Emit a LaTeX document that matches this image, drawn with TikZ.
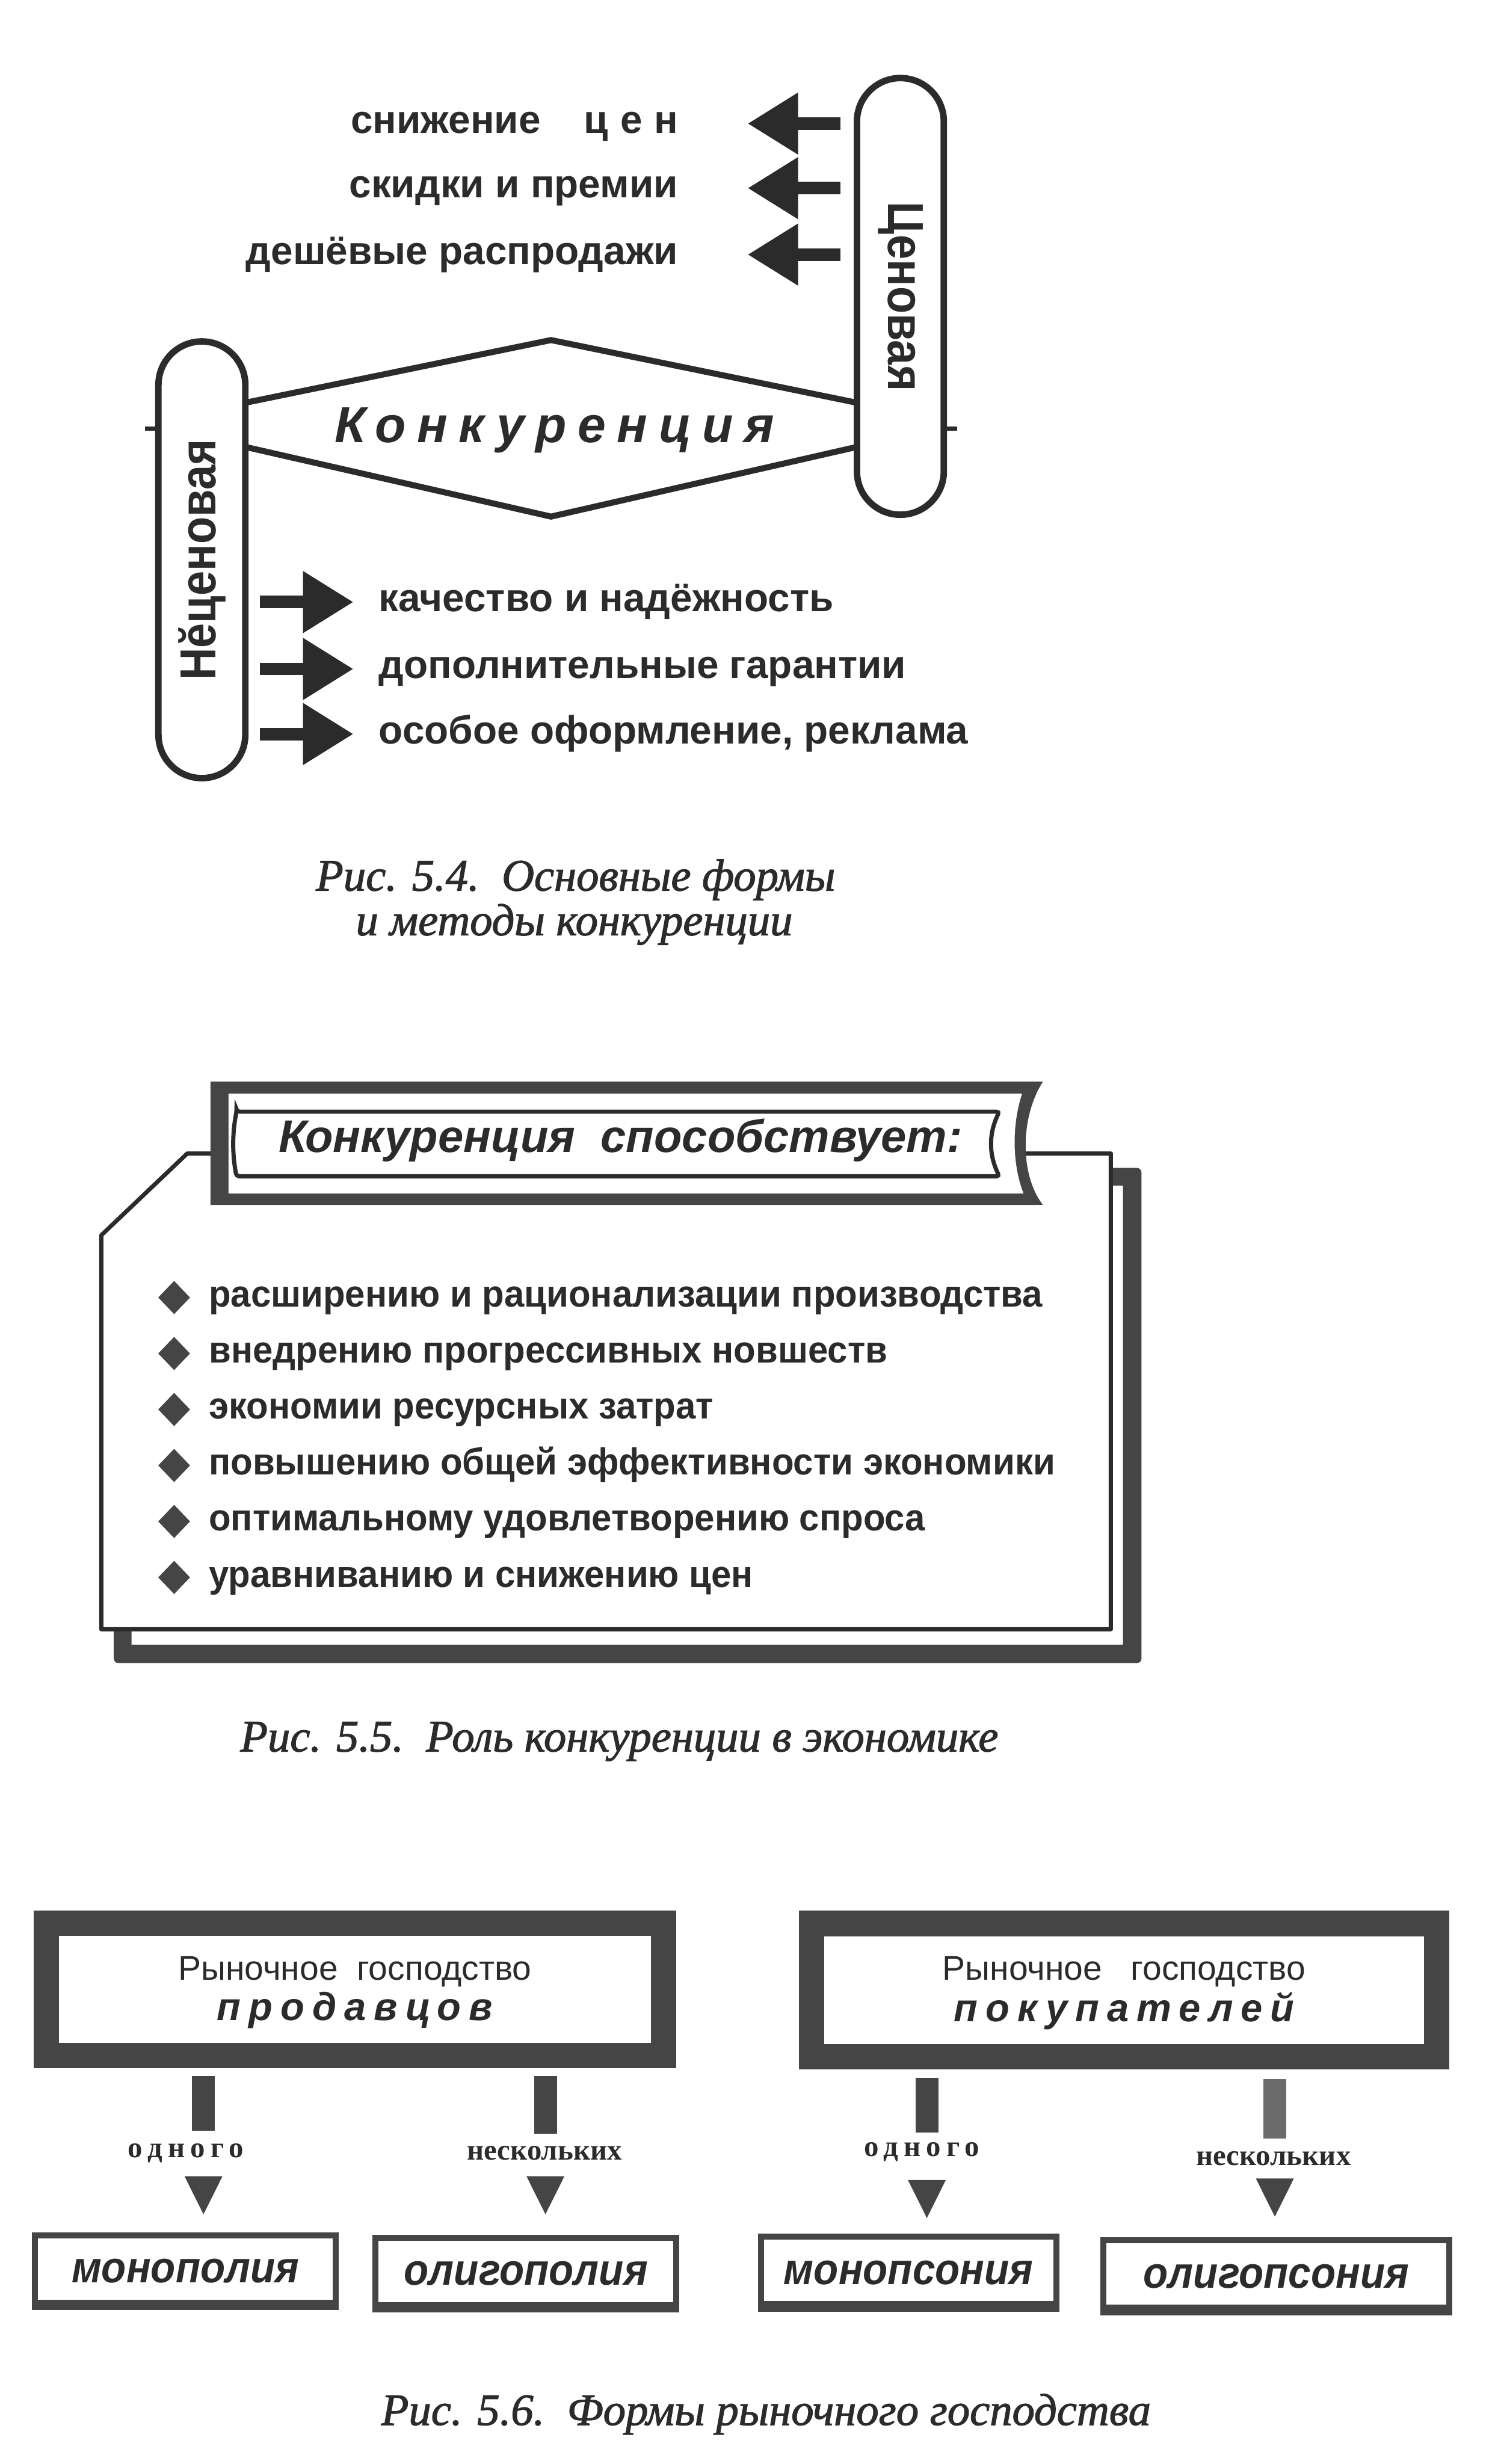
\documentclass[tikz,border=0pt]{standalone}
\usepackage{graphicx}
\usepackage{fontspec}
\setmainfont{Liberation Sans}
\newfontfamily\capfont{Liberation Serif}
\usetikzlibrary{shapes.geometric,arrows.meta,positioning}

\definecolor{ink}{gray}{0.17}
\definecolor{frame}{gray}{0.27}
\definecolor{softbar}{gray}{0.42}

\begin{document}
\begin{tikzpicture}[x=1mm, y=-1mm,
  capsule/.style={draw=ink, line width=1.4mm, rounded corners=9.35mm,
    minimum width=18.7mm, minimum height=94mm, inner sep=0pt, text=ink,
    font=\fontsize{31}{31}\selectfont\bfseries\addfontfeature{FakeStretch=0.88}},
  outline/.style={draw=ink, line width=1.3mm, line join=miter},
  fatarrow/.style={draw=ink, line width=2.7mm, -{Triangle[length=10.9mm, width=12.6mm]}},
  method/.style={inner sep=0pt, text height=4.1mm, text depth=0pt, text=ink,
    font=\fontsize{24.2}{28}\selectfont\bfseries},
  bigword/.style={inner sep=0pt, text=ink,
    font=\fontsize{31}{33}\selectfont\bfseries\itshape\addfontfeature{LetterSpace=22}},
  headline/.style={inner sep=0pt, text=ink,
    font=\fontsize{28}{30}\selectfont\bfseries\itshape},
  item/.style={inner sep=0pt, text height=4.1mm, text depth=0pt, text=ink,
    font=\fontsize{23}{26}\selectfont\bfseries\addfontfeature{FakeStretch=0.96}},
  bullet/.style={diamond, fill=frame, inner sep=0pt, minimum width=6.9mm, minimum height=7.2mm},
  selbox/.style={draw=frame, line width=5.5mm, minimum width=132.9mm, minimum height=28.5mm, inner sep=0pt},
  seltext/.style={inner sep=0pt, text=ink, font=\fontsize{21}{24}\selectfont},
  selkey/.style={inner sep=0pt, text=ink,
    font=\fontsize{24}{26}\selectfont\bfseries\itshape\addfontfeature{LetterSpace=20}},
  bar/.style={draw=frame, line width=4.9mm},
  tip/.style={isosceles triangle, isosceles triangle apex angle=53, rotate=-90,
    fill=frame, inner sep=0pt, minimum height=8.2mm},
  share/.style={inner sep=0pt, text=ink, font=\capfont\fontsize{18}{20}\selectfont\bfseries},
  res/.style={draw=frame, line width=1.3mm, minimum height=15.5mm, inner sep=0pt,
    text height=5mm, text depth=0pt, text=ink,
    font=\fontsize{27}{30}\selectfont\bfseries\itshape\addfontfeature{FakeStretch=0.92}},
  caption/.style={inner sep=0pt, text=ink,
    font=\capfont\fontsize{27.5}{30}\selectfont\itshape\addfontfeature{FakeBold=1.6}}]

  \useasboundingbox (0,0) rectangle (321.7,530.4);
  \fill[white] (0,0) rectangle (321.7,530.4);

  % Fig. 5.4: forms of competition
  \node[capsule] (price) at (193.8,63.8) {\rotatebox{-90}{Ценовая}};
  \node[capsule] (nonprice) at (43.45,120.5) {\rotatebox{90}{Нӗценовая}};
  \coordinate (hexT) at (118.6,73.2);
  \coordinate (hexB) at (118.6,111.2);
  \coordinate (rowU) at (118.6,86.7);
  \coordinate (rowD) at (118.6,96.2);
  \coordinate (rowM) at (118.6,92.2);
  \draw[outline] ([xshift=-0.7mm]nonprice.east |- rowU) -- (hexT) -- ([xshift=0.7mm]price.west |- rowU);
  \draw[outline] ([xshift=-0.7mm]nonprice.east |- rowD) -- (hexB) -- ([xshift=0.7mm]price.west |- rowD);
  \draw[outline, line width=0.9mm] (nonprice.west |- rowM) -- ++(-2.2,0);
  \draw[outline, line width=0.9mm] (price.east |- rowM) -- ++(2.2,0);
  \node[bigword, anchor=base] (konk) at (119.4,95.3) {Конкуренция};

  % Methods
  \node[method, anchor=east] (p1) at (146.0,26.6) {снижение\hspace{1.1em}ц\hspace{0.3em}е\hspace{0.3em}н};
  \node[method, anchor=east] (p2) at (146.0,40.5) {скидки и премии};
  \node[method, anchor=east] (p3) at (146.0,54.8) {дешёвые распродажи};
  \node[method, anchor=west] (q1) at (81.5,129.6) {качество и надёжность};
  \node[method, anchor=west] (q2) at (81.5,144.0) {дополнительные гарантии};
  \node[method, anchor=west] (q3) at (81.5,158.0) {особое оформление, реклама};
  \foreach \n in {1,2,3}{
    \draw[fatarrow] ([xshift=-2.8mm]price.west |- p\n.east) -- ([xshift=14.9mm]p\n.east);
    \draw[fatarrow] ([xshift=2.5mm]nonprice.east |- q\n.west) -- ([xshift=-5.4mm]q\n.west);
  }

  \node[caption, anchor=base] (cap4a) at (123.9,191.7) {Рис. 5.4.\ \ Основные формы};
  \node[caption, anchor=base] (cap4b) at (123.6,201.3) {и методы конкуренции};

  % Fig. 5.5: sheets behind
  \fill[frame, rounded corners=1mm] (43.0,251.4) -- (245.7,251.4) -- (245.7,358.0)
    -- (24.5,358.0) -- (24.5,269.0) -- cycle;
  \fill[white] (46.8,255.2) -- (241.7,255.2) -- (241.7,354.0) -- (28.3,354.0) -- (28.3,272.8) -- cycle;
  % Front sheet
  \draw[draw=ink, fill=white, line width=0.9mm, line join=round]
    (40.3,248.3) -- (239.1,248.3) -- (239.1,350.7) -- (21.8,350.7) -- (21.8,265.9) -- cycle;
  % Header banner
  \fill[frame] (45.3,232.8) -- (224.5,232.8) .. controls (219.5,240.5) and (219.5,253.0) .. (224.5,259.4)
    -- (45.3,259.4) -- cycle;
  \fill[white] (49.2,235.4) -- (220.0,235.4) .. controls (217.8,242.0) and (217.8,250.5) .. (220.3,256.9)
    -- (49.2,256.9) -- cycle;
  \draw[draw=ink, line width=0.9mm, rounded corners=0.6mm] (50.9,239.3) -- (215.1,239.3)
    .. controls (212.8,244.0) and (212.8,248.5) .. (215.1,253.2) -- (50.9,253.2)
    .. controls (50.0,248.5) and (50.0,244.0) .. cycle;
  \node[headline, anchor=base] (head) at (133.6,248.0) {Конкуренция\ \ способствует:};

  % Items
  \foreach \txt [count=\i] in {расширению и рационализации производства,
      внедрению прогрессивных новшеств, экономии ресурсных затрат,
      повышению общей эффективности экономики, оптимальному удовлетворению спроса,
      уравниванию и снижению цен}{
    \node[item, anchor=west] (i\i) at (44.9,{279.3+12.05*(\i-1)}) {\txt};
    \node[bullet, left=3.9mm of i\i] (b\i) {};
  }

  \node[caption, anchor=base] (cap5) at (133.3,377.0) {Рис. 5.5.\ \ Роль конкуренции в экономике};

  % Fig. 5.6: market power
  \node[selbox] (sel) at (76.4,428.2) {};
  \node[seltext, anchor=base] (sel-a) at (76.4,426.2) {Рыночное\ \ господство};
  \node[selkey, anchor=base] (sel-b) at (76.4,434.9) {продавцов};
  \node[selbox, minimum width=134.6mm, minimum height=28.7mm] (buy) at (241.95,428.4) {};
  \node[seltext, anchor=base] (buy-a) at (241.95,426.2) {Рыночное\ \ \ господство};
  \node[selkey, anchor=base] (buy-b) at (241.95,435.1) {покупателей};

  % Results
  \node[res, minimum width=64.7mm] (mono) at (39.9,488.9) {монополия};
  \node[res, minimum width=64.7mm] (olig) at (113.2,489.4) {олигополия};
  \node[res, minimum width=63.6mm] (monops) at (195.55,489.2) {монопсония};
  \node[res, minimum width=74.5mm] (oligops) at (274.7,490.0) {олигопсония};
  \foreach \b in {mono,olig,monops,oligops}
    \fill[frame] (\b.south west) rectangle ([yshift=2.3mm]\b.south east);

  % Branches
  \node[tip, anchor=apex] (t1) at (43.8,476.8) {};
  \node[tip, anchor=apex] (t2) at (117.4,476.8) {};
  \node[tip, anchor=apex] (t3) at (199.5,477.6) {};
  \node[tip, anchor=apex] (t4) at (274.4,477.3) {};
  \draw[bar] ([yshift=-1.7mm]sel.south -| t1.apex) -- ++(0,11.8);
  \draw[bar] ([yshift=-1.7mm]sel.south -| t2.apex) -- ++(0,12.4);
  \draw[bar] ([yshift=-1.7mm]buy.south -| t3.apex) -- ++(0,11.8);
  \draw[bar, draw=softbar] ([yshift=-2.0mm]buy.south -| t4.apex) -- ++(0,12.9);
  \node[share, anchor=base] (n1) at (40.0,464.4) {\addfontfeature{LetterSpace=19}одного};
  \node[share, anchor=base] (n2) at (117.2,465.0) {нескольких};
  \node[share, anchor=base] (n3) at (198.4,464.1) {\addfontfeature{LetterSpace=19}одного};
  \node[share, anchor=base] (n4) at (274.1,466.1) {нескольких};

  \node[caption, anchor=base] (cap6) at (164.9,522.0) {Рис. 5.6.\ \ Формы рыночного господства};
\end{tikzpicture}
\end{document}
